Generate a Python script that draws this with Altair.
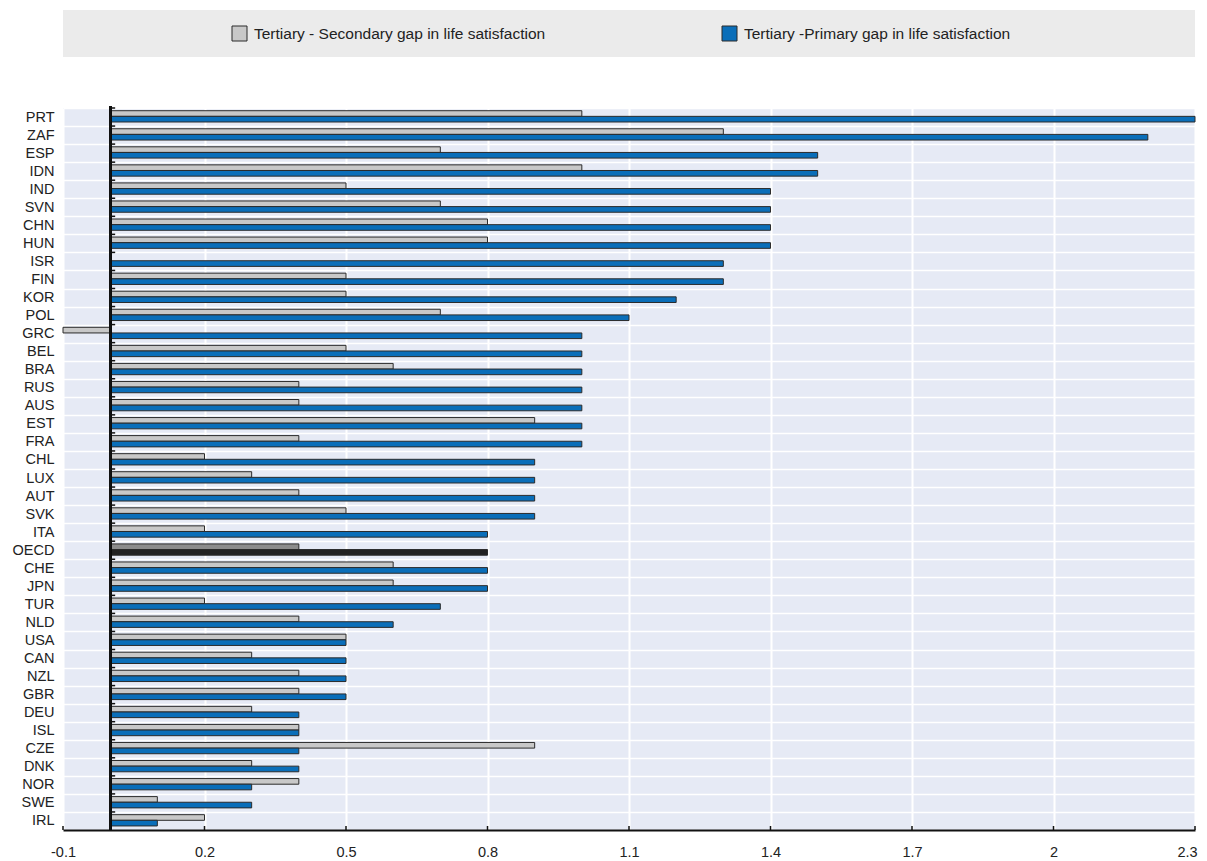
import altair as alt
import pandas as pd

countries = ["PRT", "ZAF", "ESP", "IDN", "IND", "SVN", "CHN", "HUN", "ISR", "FIN",
             "KOR", "POL", "GRC", "BEL", "BRA", "RUS", "AUS", "EST", "FRA", "CHL",
             "LUX", "AUT", "SVK", "ITA", "OECD", "CHE", "JPN", "TUR", "NLD", "USA",
             "CAN", "NZL", "GBR", "DEU", "ISL", "CZE", "DNK", "NOR", "SWE", "IRL"]
secondary_gap = [1.0, 1.3, 0.7, 1.0, 0.5, 0.7, 0.8, 0.8, 0.0, 0.5,
                 0.5, 0.7, -0.1, 0.5, 0.6, 0.4, 0.4, 0.9, 0.4, 0.2,
                 0.3, 0.4, 0.5, 0.2, 0.4, 0.6, 0.6, 0.2, 0.4, 0.5,
                 0.3, 0.4, 0.4, 0.3, 0.4, 0.9, 0.3, 0.4, 0.1, 0.2]
primary_gap = [2.3, 2.2, 1.5, 1.5, 1.4, 1.4, 1.4, 1.4, 1.3, 1.3,
               1.2, 1.1, 1.0, 1.0, 1.0, 1.0, 1.0, 1.0, 1.0, 0.9,
               0.9, 0.9, 0.9, 0.8, 0.8, 0.8, 0.8, 0.7, 0.6, 0.5,
               0.5, 0.5, 0.5, 0.4, 0.4, 0.4, 0.4, 0.3, 0.3, 0.1]
series_names = ["Tertiary - Secondary gap in life satisfaction",
                "Tertiary -Primary gap in life satisfaction"]
x_ticks = [-0.1, 0.2, 0.5, 0.8, 1.1, 1.4, 1.7, 2.0, 2.3]

rows = []
for c, s, p in zip(countries, secondary_gap, primary_gap):
    tag = "_oecd" if c == "OECD" else ""
    rows.append({"country": c, "series": "sec", "value": s, "key": "sec" + tag})
    rows.append({"country": c, "series": "pri", "value": p, "key": "pri" + tag})
df = pd.DataFrame(rows)
tick_df = pd.DataFrame({"tick": x_ticks})
country_df = pd.DataFrame({"country": countries})

W, H = 1132, 722
FONT = "'Liberation Sans', Arial, sans-serif"
BG = "#e6eaf5"
GRAY = "#c8c8c8"
BLUE = "#0a6eb9"
STROKE = "#2b2b2b"

x_domain = [x_ticks[0], x_ticks[-1]]
units_per_px = (x_domain[1] - x_domain[0]) / W

xscale = alt.Scale(domain=x_domain, nice=False, zero=False)
yscale = alt.Scale(domain=countries, paddingInner=0, paddingOuter=0)

label_expr = ("datum.value < 0 ? '-' + format(-datum.value, '.1~f') : "
              "format(datum.value, '.1~f')")

x_axis = alt.Axis(values=x_ticks, labelExpr=label_expr, title=None,
                  grid=True, gridColor="white", gridWidth=2,
                  domain=True, domainColor="#111", domainWidth=2,
                  ticks=False, labelPadding=15, labelFont=FONT,
                  labelFontSize=14.5, labelColor="#222", labelFlush=False,
                  labelOffset={"condition": {"test": f"datum.value >= {x_ticks[-1]}",
                                             "value": -8},
                               "value": 0})
y_axis = alt.Axis(title=None, domain=False, ticks=False,
                  tickBand="extent", grid=True,
                  gridColor="white", gridWidth=1.5, labelPadding=9,
                  labelFont=FONT, labelFontSize=14.5, labelColor="#222")

bars = alt.Chart(df).mark_bar(stroke=STROKE, strokeWidth=1).encode(
    x=alt.X("value:Q", scale=xscale, axis=x_axis),
    y=alt.Y("country:N", scale=yscale, sort=countries, axis=y_axis),
    yOffset=alt.YOffset("series:N", sort=["sec", "pri"],
                        scale=alt.Scale(domain=["sec", "pri"], paddingInner=0,
                                        paddingOuter=0.6, align=0.4)),
    color=alt.Color("key:N", legend=None,
                    scale=alt.Scale(domain=["sec", "pri", "sec_oecd", "pri_oecd"],
                                    range=[GRAY, BLUE, "#8c8c8c", "#222222"])),
)

# vertical zero line
zero_line = alt.Chart(country_df).mark_rule(color="#111", strokeWidth=2).encode(
    x=alt.datum(0), y=alt.value(-2), y2=alt.value(H))

# small ticks on the zero line at each category boundary
y_ticks = alt.Chart(country_df).mark_rule(color="#111", strokeWidth=1.5).encode(
    y=alt.Y("country:N", scale=yscale, sort=countries, bandPosition=0, axis=y_axis),
    x=alt.datum(0), x2=alt.datum(5 * units_per_px))

# inward x-axis ticks
x_tick_marks = alt.Chart(tick_df).mark_rule(color="#111", strokeWidth=1.5).encode(
    x=alt.X("tick:Q", scale=xscale, axis=x_axis), y=alt.value(H - 4), y2=alt.value(H))

one = alt.Data(values=[{"a": 1}])
legend_bg = alt.Chart(one).mark_rect(fill="#ebebeb").encode(
    x=alt.value(0), x2=alt.value(W), y=alt.value(-98), y2=alt.value(-51))
leg_sym1 = alt.Chart(one).mark_rect(fill=GRAY, stroke=STROKE, strokeWidth=1).encode(
    x=alt.value(169), x2=alt.value(184), y=alt.value(-82), y2=alt.value(-67))
leg_sym2 = alt.Chart(one).mark_rect(fill=BLUE, stroke=STROKE, strokeWidth=1).encode(
    x=alt.value(659), x2=alt.value(674), y=alt.value(-82), y2=alt.value(-67))
leg_txt1 = alt.Chart(one).mark_text(align="left", baseline="middle", font=FONT,
                                    fontSize=15.5, color="#222").encode(
    x=alt.value(191), y=alt.value(-74), text=alt.value(series_names[0]))
leg_txt2 = alt.Chart(one).mark_text(align="left", baseline="middle", font=FONT,
                                    fontSize=15.5, color="#222").encode(
    x=alt.value(681), y=alt.value(-74), text=alt.value(series_names[1]))

chart = alt.layer(
    bars, zero_line, y_ticks, x_tick_marks,
    legend_bg, leg_sym1, leg_sym2, leg_txt1, leg_txt2
).properties(
    width=W, height=H,
    padding={"left": 4, "top": 2, "right": 0, "bottom": 0},
).configure_view(fill=BG, stroke=None)

chart.save("out.html", embed_options={"renderer": "svg", "actions": False})
